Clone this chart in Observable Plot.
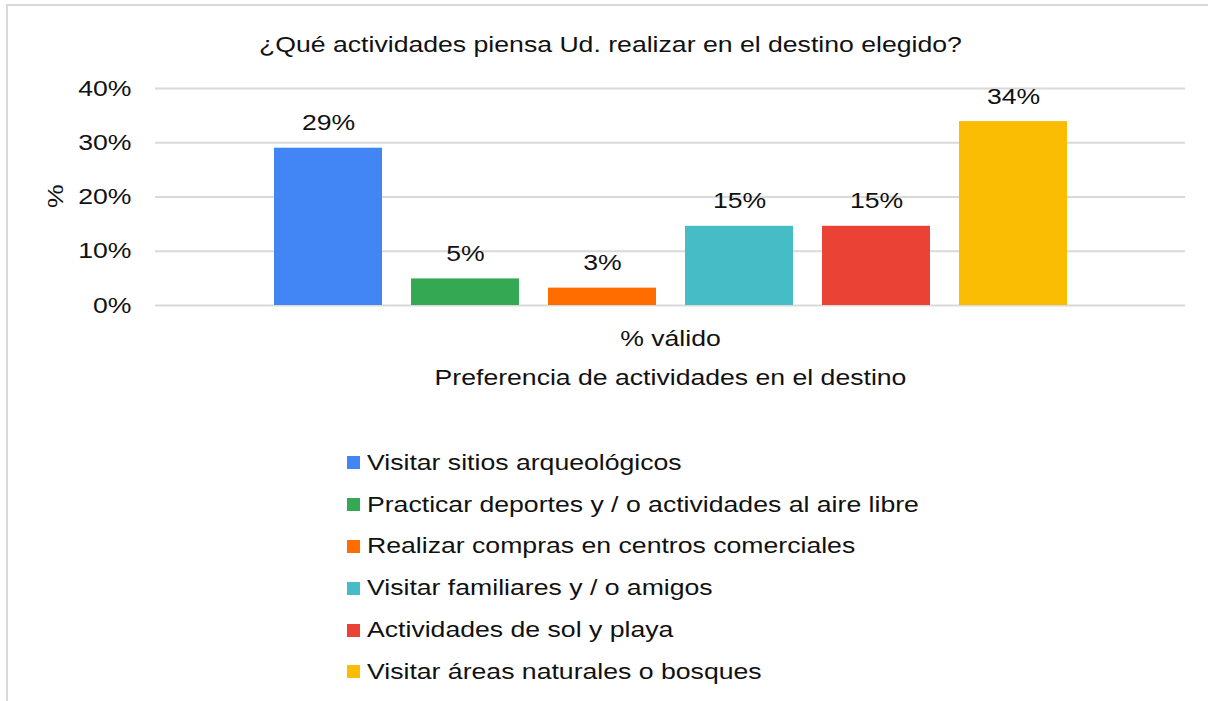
<!DOCTYPE html>
<html>
<head>
<meta charset="utf-8">
<script src="https://cdn.jsdelivr.net/npm/d3@7"></script>
<script src="https://cdn.jsdelivr.net/npm/@observablehq/plot@0.6"></script>
<style>
  html, body { margin: 0; padding: 0; background: #fff; width: 1208px; height: 701px; overflow: hidden; }
  body { font-family: "Liberation Sans", Arial, sans-serif; color: #111; position: relative; }
  #frame { position: absolute; left: 6px; top: 4px; width: 1300px; height: 800px; border-top: 2px solid #d9d9d9; border-left: 2px solid #d9d9d9; }
  #title { position: absolute; left: 0; top: 30px; width: 1220px; height: 30px; line-height: 30px; text-align: center; font-size: 22px; }
  #title span { display: inline-block; transform: scaleX(1.21); transform-origin: center; }
  #chart { position: absolute; left: 0; top: 70px; }
  #legend { position: absolute; left: 347px; top: 442px; font-size: 22px; }
  .row { display: flex; align-items: center; height: 41.8px; white-space: nowrap; }
  .sw { width: 13px; height: 13px; margin-right: 7px; flex: none; }
  .lt { display: inline-block; transform: scaleX(1.21); transform-origin: left center; }
</style>
</head>
<body>
<div id="frame"></div>
<div id="title"><span></span></div>
<div id="chart"></div>
<div id="legend"></div>
<script>
const titleText = "¿Qué actividades piensa Ud. realizar en el destino elegido?";
const groupName = "% válido";
const xTitle = "Preferencia de actividades en el destino";
const yLabel = "%";
const categories = [
  "Visitar sitios arqueológicos",
  "Practicar deportes y / o actividades al aire libre",
  "Realizar compras en centros comerciales",
  "Visitar familiares y / o amigos",
  "Actividades de sol y playa",
  "Visitar áreas naturales o bosques"
];
const values = [29.0, 4.9, 3.2, 14.6, 14.6, 33.9];
const valueLabels = ["29%", "5%", "3%", "15%", "15%", "34%"];
const colors = ["#4285f4", "#34a853", "#ff6d01", "#46bdc6", "#ea4335", "#fbbc04"];
const yTicks = [0, 10, 20, 30, 40];

const rows = categories.map((c, i) => ({group: groupName, category: c, value: values[i], label: valueLabels[i]}));

document.querySelector("#title span").textContent = titleText;

const chart = Plot.plot({
  width: 1208,
  height: 330,
  marginTop: 18,
  marginBottom: 95,
  marginLeft: 155,
  marginRight: 23,
  style: {fontFamily: "'Liberation Sans', Arial, sans-serif", fontSize: "22px", color: "#111", background: "transparent", overflow: "visible"},
  facet: {data: rows, x: "group"},
  fx: {padding: 0, label: null, axis: "bottom", tickSize: 0, tickPadding: 25},
  x: {domain: categories, axis: null, paddingInner: 0.212, paddingOuter: 0.865},
  y: {domain: [0, 40], ticks: yTicks, tickFormat: d => d + "%", tickSize: 0, tickPadding: 24, label: null},
  color: {domain: categories, range: colors},
  marks: [
    Plot.ruleY(yTicks, {stroke: "#d9d9d9", strokeWidth: 2}),
    Plot.barY(rows, {x: "category", y: "value", fill: "category"}),
    Plot.text(rows, {x: "category", y: "value", text: "label", dy: -25, fill: "#111"}),
    Plot.text([xTitle], {frameAnchor: "bottom", dy: 79, text: d => d, fill: "#111"}),
    Plot.text([yLabel], {frameAnchor: "left", dx: -100, dy: 11, rotate: -90, text: d => d, fill: "#111"})
  ]
});

// widen the glyphs horizontally around each text's anchor (the reference font is drawn wider than Arial)
chart.querySelectorAll("text").forEach(t => {
  const xa = t.getAttribute("x");
  let pre = "";
  if (xa !== null && isFinite(+xa) && +xa !== 0) {
    pre = ` translate(${+xa},0)`;
    t.removeAttribute("x");
  }
  const tr = t.getAttribute("transform") || "";
  t.setAttribute("transform", `${tr}${pre} scale(1.21,1)`);
});
document.getElementById("chart").appendChild(chart);

const legend = document.getElementById("legend");
categories.forEach((c, i) => {
  const row = document.createElement("div");
  row.className = "row";
  const sw = document.createElement("span");
  sw.className = "sw";
  sw.style.background = colors[i];
  const t = document.createElement("span");
  t.className = "lt";
  t.textContent = c;
  row.appendChild(sw);
  row.appendChild(t);
  legend.appendChild(row);
});
</script>
</body>
</html>
